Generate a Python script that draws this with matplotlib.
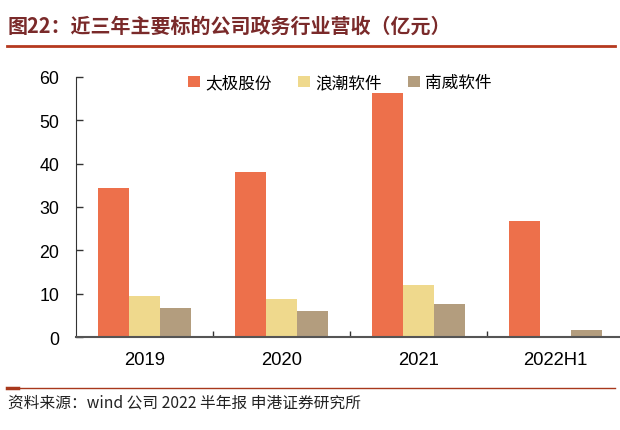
import numpy as np
import matplotlib
matplotlib.use("Agg")
import matplotlib.pyplot as plt
from matplotlib.lines import Line2D

plt.rcParams['font.family'] = ['Noto Sans CJK SC', 'DejaVu Sans']

# data
years = ['2019', '2020', '2021', '2022H1']
companies = ['太极股份', '浪潮软件', '南威软件']
taiji = [34.4, 38.0, 56.2, 26.7]
langchao = [9.5, 8.8, 12.1, 0]
nanwei = [6.7, 6.0, 7.6, 1.7]
colors = ['#ED704B', '#EFD98D', '#B39D7E']

title = '图22：近三年主要标的公司政务行业营收（亿元）'
source = '资料来源：wind 公司 2022 半年报 申港证券研究所'

fig = plt.figure(figsize=(6.2, 4.31), dpi=100)
ax = fig.add_axes([76 / 620, 92.7 / 431, 544 / 620, 260.6 / 431])

x = np.arange(len(years))
w = 0.226
for i, (vals, name) in enumerate(zip([taiji, langchao, nanwei], companies)):
    ax.bar(x + (i - 1) * w, vals, w, color=colors[i], label=name, linewidth=0)

ax.set_xlim(-0.5, 3.47)
ax.set_ylim(0, 60)
ax.set_yticks(range(0, 61, 10))
ax.set_xticks(x)
ax.set_xticklabels(years, family='Liberation Sans', fontsize=13.3)
ax.set_xticks(np.arange(0.5, 3.5, 1), minor=True)
ax.tick_params(axis='x', which='major', length=0, pad=10)
ax.tick_params(axis='x', which='minor', direction='in', length=4, width=1, color='#333333')
ax.tick_params(axis='y', direction='in', length=5, width=1, pad=12, labelsize=12.8, color='#333333')
for t in ax.get_yticklabels():
    t.set_family('Liberation Sans')

for s in ['top', 'right']:
    ax.spines[s].set_visible(False)
ax.spines['left'].set_color('#333333')
ax.spines['bottom'].set_color('#555555')
ax.spines['bottom'].set_linewidth(1.5)

leg = ax.legend(loc='upper center', bbox_to_anchor=(0.485, 1.067), ncol=3, frameon=False,
                fontsize=12, handlelength=0.7, handleheight=0.7, handletextpad=0.3,
                columnspacing=1.6)

fig.text(8 / 620, 1 - 26 / 431, title, fontsize=14.4, fontweight='bold',
         color='#7A2A2A', va='center', ha='left')
fig.add_artist(Line2D([7 / 620, 615 / 620], [1 - 47 / 431] * 2, color='#B5391F', lw=2))

fig.add_artist(Line2D([7 / 620, 615 / 620], [1 - 389 / 431] * 2, color='#A8381C', lw=1))
fig.add_artist(Line2D([7 / 620, 18 / 620], [1 - 388.5 / 431] * 2, color='#A8381C', lw=2.5))
fig.text(8 / 620, 1 - 403 / 431, source, fontsize=11.3, color='#222222',
         va='center', ha='left', style='italic')

fig.savefig('out.png', dpi=100)
